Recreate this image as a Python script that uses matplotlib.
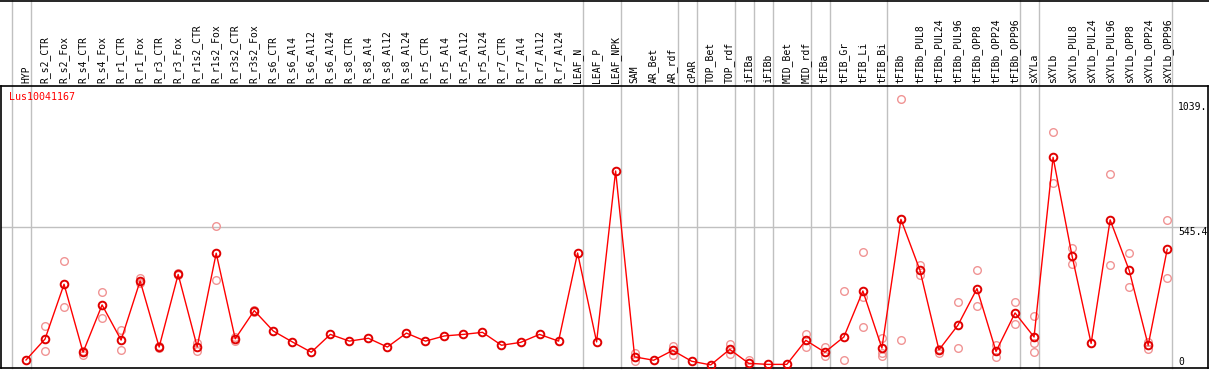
import matplotlib
matplotlib.use("Agg")
import matplotlib.pyplot as plt
from matplotlib.lines import Line2D
from matplotlib.transforms import blended_transform_factory

categories = ["HYP", "R_s2_CTR", "R_s2_Fox", "R_s4_CTR", "R_s4_Fox", "R_r1_CTR", "R_r1_Fox",
              "R_r3_CTR", "R_r3_Fox", "R_r1s2_CTR", "R_r1s2_Fox", "R_r3s2_CTR", "R_r3s2_Fox",
              "R_s6_CTR", "R_s6_Al4", "R_s6_Al12", "R_s6_Al24", "R_s8_CTR", "R_s8_Al4",
              "R_s8_Al12", "R_s8_Al24", "R_r5_CTR", "R_r5_Al4", "R_r5_Al12", "R_r5_Al24",
              "R_r7_CTR", "R_r7_Al4", "R_r7_Al12", "R_r7_Al24", "LEAF_N", "LEAF_P", "LEAF_NPK",
              "SAM", "AR_Bet", "AR_rdf", "cPAR", "TOP_Bet", "TOP_rdf", "iFIBa", "iFIBb",
              "MID_Bet", "MID_rdf", "tFIBa", "tFIB_Gr", "tFIB_Li", "tFIB_Bi", "tFIBb",
              "tFIBb_PUL8", "tFIBb_PUL24", "tFIBb_PUL96", "tFIBb_OPP8", "tFIBb_OPP24",
              "tFIBb_OPP96", "sXYLa", "sXYLb", "sXYLb_PUL8", "sXYLb_PUL24", "sXYLb_PUL96",
              "sXYLb_OPP8", "sXYLb_OPP24", "sXYLb_OPP96"]

mean_values = [31, 112, 324, 61, 244, 108, 337, 81, 362, 82, 444, 113, 222,
               143, 101, 61, 130, 104, 115, 81, 135, 104, 124, 130, 138,
               88, 99, 130, 104, 445, 101, 762,
               43, 30, 68, 26, 12, 72, 18, 14, 14, 107, 61, 120, 298, 77, 575,
               378, 70, 166, 307, 64, 213, 120, 815, 433, 95, 573, 378, 88, 459]

replicates = {
    "R_s2_CTR": [161, 66], "R_s2_Fox": [413, 235], "R_s4_CTR": [50, 65],
    "R_s4_Fox": [294, 192], "R_r1_CTR": [147, 68], "R_r1_Fox": [349, 330],
    "R_r3_CTR": [78, 84], "R_r3_Fox": [358, 366], "R_r1s2_CTR": [97, 67],
    "R_r1s2_Fox": [549, 339], "R_r3s2_CTR": [120, 104], "R_r3s2_Fox": [218, 226],
    "SAM": [59, 27], "AR_rdf": [85, 50], "TOP_rdf": [93, 53], "iFIBa": [31, 5],
    "MID_rdf": [132, 83], "tFIBa": [81, 46], "tFIB_Gr": [297, 30],
    "tFIB_Li": [450, 275, 157], "tFIB_Bi": [116, 59, 46], "tFIBb": [1039, 108, 578],
    "tFIBb_PUL8": [400, 359], "tFIBb_PUL24": [59, 74], "tFIBb_PUL96": [254, 76],
    "tFIBb_OPP8": [378, 239], "tFIBb_OPP24": [89, 41], "tFIBb_OPP96": [254, 169],
    "sXYLa": [200, 95, 61], "sXYLb": [912, 714], "sXYLb_PUL8": [464, 402],
    "sXYLb_PUL96": [749, 397], "sXYLb_OPP8": [445, 312], "sXYLb_OPP24": [102, 75],
    "sXYLb_OPP96": [573, 347],
}

group_bounds = [-1, 0, 29, 31, 34, 35, 37, 38, 39, 41, 42, 45, 52, 53, 60]
gene_name = "Lus10041167"
y_max = 1090.8
y_tick_labels = ["0", "545.4", "1039."]
y_tick_pixels = [362, 232, 107]

W, H = 1209, 370
fig = plt.figure(figsize=(W / 100, H / 100), dpi=100)
ax_left, ax_right, ax_top, ax_bot = 1, 1208, 86, 368
ax = fig.add_axes([ax_left / W, (H - ax_bot) / H, (ax_right - ax_left) / W, (ax_bot - ax_top) / H])

n = len(categories)
x = list(range(n))
spacing = 19.02
ax.set_xlim(-(26 - ax_left) / spacing, (ax_right - 26) / spacing)
ax.set_ylim(0, y_max)
ax.set_xticks([])
ax.set_yticks([])
for s in ax.spines.values():
    s.set_color("black")
    s.set_linewidth(1.2)

mono = "DejaVu Sans Mono"
ext = (ax_bot - 0) / (ax_bot - ax_top)
for b in group_bounds:
    ax.axvline(b + 0.26, ymin=0, ymax=ext, color="#c0c0c0", lw=1, clip_on=False, zorder=0)
ax.axhline(y_max / 2, color="#c0c0c0", lw=1, zorder=0)

# replicates
for i, c in enumerate(categories):
    if c in replicates:
        ax.plot([i] * len(replicates[c]), replicates[c], linestyle="none", marker="o",
                ms=5.5, mfc="none", mec="#f09494", mew=1.0, zorder=2)

ax.plot(x, mean_values, color="red", lw=1, marker="o", ms=5.5, mfc="none", mec="#e00000",
        mew=1.4, zorder=3)

# category labels
trans = blended_transform_factory(ax.transData, ax.transAxes)
for i, c in enumerate(categories):
    ax.text(i, 1 + 3 / (ax_bot - ax_top), c, rotation=90, ha="center", va="bottom",
            fontsize=7, family=mono, transform=trans, clip_on=False)

# gene name
ax.text(8 / (ax_right - ax_left), 1 - 11 / (ax_bot - ax_top), gene_name, color="red",
        fontsize=7.2, family=mono, transform=ax.transAxes, va="center", ha="left")

# y tick labels (inside, right)
for ypix, t in zip(y_tick_pixels, y_tick_labels):
    fig.text(1178 / W, (H - ypix) / H, t, fontsize=7, family=mono, ha="left", va="center")

# top border line
fig.add_artist(Line2D([0, 1], [1 - 0.5 / H, 1 - 0.5 / H], color="black", lw=1.2, transform=fig.transFigure))

fig.savefig("out.png", dpi=100)
